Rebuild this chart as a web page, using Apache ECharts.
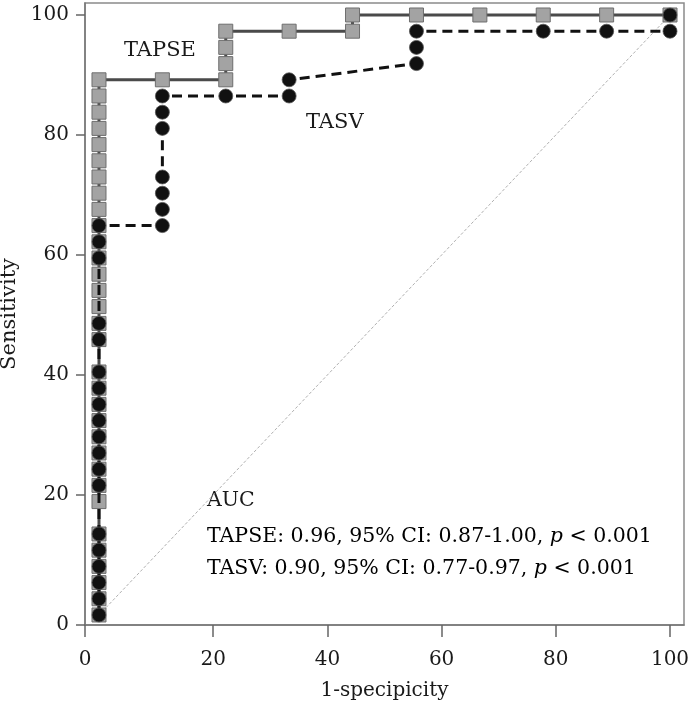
<!DOCTYPE html>
<html>
<head>
<meta charset="utf-8">
<script src="https://cdn.jsdelivr.net/npm/echarts@6/dist/echarts.min.js"></script>
<style>html,body{margin:0;padding:0;background:#fff}#c{width:691px;height:711px}</style>
</head>
<body>
<div id="c"></div>
<script>
// ---- data ----
var tapseX = [0,0,0,0,0,0,0,0,0,0,0,0,0,0,0,0,0,0,0,0,0,0,0,0,0,0,0,0,0,0,0,0,
  11.1, 22.2, 22.2, 22.2, 22.2, 33.3, 44.4, 44.4, 55.6, 66.7, 77.8, 88.9, 100];
var tapseY = [0,2.7,5.4,8.1,10.8,13.5,18.9,21.6,24.3,27.0,29.7,32.4,35.1,37.8,40.5,45.9,48.6,51.4,54.1,56.8,59.5,62.2,64.9,67.6,70.3,73.0,75.7,78.4,81.1,83.8,86.5,89.2,
  89.2, 89.2, 91.9, 94.6, 97.3, 97.3, 97.3, 100, 100, 100, 100, 100, 100];
var tasvX = [0,0,0,0,0,0,0,0,0,0,0,0,0,0,0,0,0,0,0,
  11.1, 11.1, 11.1, 11.1, 11.1, 11.1, 11.1, 22.2, 33.3, 33.3, 55.6, 55.6, 55.6, 77.8, 88.9, 100, 100];
var tasvY = [0,2.7,5.4,8.1,10.8,13.5,21.6,24.3,27.0,29.7,32.4,35.1,37.8,40.5,45.9,48.6,59.5,62.2,64.9,
  64.9, 67.6, 70.3, 73.0, 81.1, 83.8, 86.5, 86.5, 86.5, 89.2, 91.9, 94.6, 97.3, 97.3, 97.3, 97.3, 100];
var refX = [0, 100];
var refY = [0, 100];
var xTicks = [0, 20, 40, 60, 80, 100];
var yTicks = [0, 20, 40, 60, 80, 100];
var xTickLabels = ['0', '20', '40', '60', '80', '100'];
var yTickLabels = ['0', '20', '40', '60', '80', '100'];
var seriesNames = ['TAPSE', 'TASV'];
var aucTitle = 'AUC';
var aucLines = [
  ['TAPSE: 0.96, 95% CI: 0.87-1.00, ', 'p', ' < 0.001'],
  ['TASV: 0.90, 95% CI: 0.77-0.97, ', 'p', ' < 0.001']
];
var xName = '1-specipicity';
var yName = 'Sensitivity';

// ---- chart ----
var FONT = 'DejaVu Serif';
var TXT = '#1a1a1a';
var X_MIN = -2.45, X_MAX = 102.45, Y_MIN = -1.67, Y_MAX = 102;
function zip(a, b) { return a.map(function (v, i) { return [v, b[i]]; }); }
// the "0" tick sits at the axis corner in the reference
var xTickPos = xTicks.map(function (v) { return v === 0 ? X_MIN : v; });
var yTickPos = yTicks.map(function (v) { return v === 0 ? Y_MIN : v; });
function lab(pos, labels) {
  return function (val) {
    for (var i = 0; i < pos.length; i++) if (Math.abs(pos[i] - val) < 1e-6) return labels[i];
    return '';
  };
}
function richLine(parts) {
  return '{n|' + parts[0] + '}{i|' + parts[1] + '}{n|' + parts[2] + '}';
}
var richStyle = {
  n: { fontFamily: FONT, fontSize: 20.5, color: TXT },
  i: { fontFamily: FONT, fontSize: 20.5, fontStyle: 'italic', color: TXT }
};

var chart = echarts.init(document.getElementById('c'), null, { renderer: 'canvas' });
chart.setOption({
  animation: false,
  backgroundColor: '#fff',
  grid: { left: 85, right: 7, top: 3, bottom: 86, containLabel: false, outerBoundsMode: 'none',
    show: true, borderColor: '#8a8a8a', borderWidth: 1.5, backgroundColor: 'transparent' },
  xAxis: {
    type: 'value', min: X_MIN, max: X_MAX,
    name: xName, nameLocation: 'middle', nameGap: 56,
    nameTextStyle: { fontFamily: FONT, fontSize: 20, color: TXT },
    axisLine: { show: true, onZero: false, lineStyle: { color: '#777', width: 1.5 } },
    axisTick: { show: true, customValues: xTickPos, length: 12, lineStyle: { color: '#666', width: 1.5 } },
    axisLabel: { customValues: xTickPos, formatter: lab(xTickPos, xTickLabels), fontFamily: FONT, fontSize: 20, color: TXT, margin: 25 },
    splitLine: { show: false }
  },
  yAxis: {
    type: 'value', min: Y_MIN, max: Y_MAX,
    name: yName, nameLocation: 'middle', nameGap: 63,
    nameTextStyle: { fontFamily: FONT, fontSize: 21, color: TXT },
    axisLine: { show: true, onZero: false, lineStyle: { color: '#777', width: 1.5 } },
    axisTick: { show: true, customValues: yTickPos, length: 9, lineStyle: { color: '#666', width: 1.5 } },
    axisLabel: { customValues: yTickPos, formatter: lab(yTickPos, yTickLabels), fontFamily: FONT, fontSize: 20, color: TXT, margin: 16 },
    splitLine: { show: false }
  },
  series: [
    {
      type: 'line', data: zip(refX, refY), symbol: 'none', silent: true,
      lineStyle: { color: '#b0b0b0', width: 1, type: [3, 2] }, z: 1
    },
    {
      name: seriesNames[0], type: 'line', data: zip(tapseX, tapseY),
      symbol: 'rect', symbolSize: 14,
      itemStyle: { color: '#a3a3a3', borderColor: '#6e6e6e', borderWidth: 1 },
      lineStyle: { color: '#4a4a4a', width: 3 }, z: 2
    },
    {
      name: seriesNames[1], type: 'line', data: zip(tasvX, tasvY),
      symbol: 'circle', symbolSize: 14,
      itemStyle: { color: '#111', borderColor: '#555', borderWidth: 0.8 },
      lineStyle: { color: '#111', width: 3, type: [10, 6] }, z: 3
    }
  ],
  graphic: [
    { type: 'text', left: 124, top: 40, style: { text: seriesNames[0], font: '21px "' + FONT + '"', fill: TXT } },
    { type: 'text', left: 306, top: 112, style: { text: seriesNames[1], font: '21px "' + FONT + '"', fill: TXT } },
    { type: 'text', left: 207, top: 490, style: { text: aucTitle, font: '20.5px "' + FONT + '"', fill: TXT } },
    { type: 'text', left: 207, top: 526, style: { text: richLine(aucLines[0]), rich: richStyle } },
    { type: 'text', left: 207, top: 558, style: { text: richLine(aucLines[1]), rich: richStyle } }
  ]
});
</script>
</body>
</html>
